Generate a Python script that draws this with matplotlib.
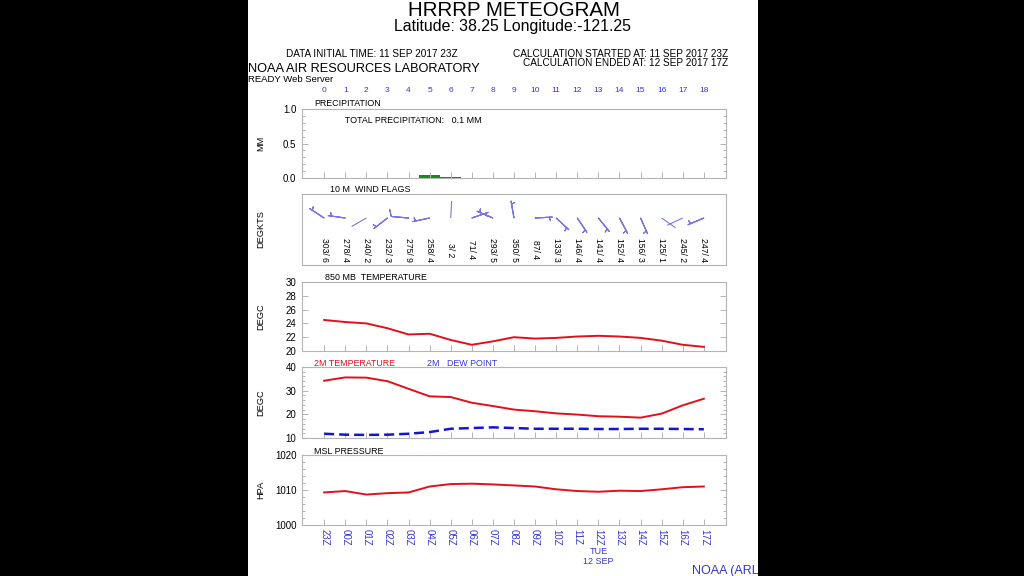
import numpy as np
import matplotlib
matplotlib.use("Agg")
import matplotlib.pyplot as plt
from matplotlib.patches import Rectangle
from matplotlib.ticker import MultipleLocator

plt.rcParams['font.family'] = ['Liberation Sans', 'DejaVu Sans']

# forecast hours and valid times
steps = list(range(19))
hours = ["23Z", "00Z", "01Z", "02Z", "03Z", "04Z", "05Z", "06Z", "07Z", "08Z",
         "09Z", "10Z", "11Z", "12Z", "13Z", "14Z", "15Z", "16Z", "17Z"]

precip = [0, 0, 0, 0, 0, 0.05, 0.01, 0.003, 0, 0, 0, 0, 0, 0, 0, 0, 0, 0, 0]
wind_dir = [303, 278, 240, 232, 275, 258, 3, 71, 293, 350, 87, 133, 146, 141, 152, 156, 125, 245, 247]
wind_kts = [6, 4, 2, 3, 9, 4, 2, 4, 5, 5, 4, 3, 4, 4, 4, 3, 1, 2, 4]
t850 = [24.5, 24.2, 24.0, 23.3, 22.4, 22.5, 21.6, 20.9, 21.4, 22.0,
        21.8, 21.9, 22.1, 22.2, 22.1, 21.9, 21.5, 20.9, 20.6]
t2m = [34.2, 35.6, 35.5, 34.0, 30.8, 27.6, 27.3, 24.9, 23.5, 22.0,
       21.3, 20.4, 19.9, 19.2, 19.0, 18.6, 20.3, 23.8, 26.6]
dewpt = [11.8, 11.4, 11.3, 11.4, 11.8, 12.5, 13.9, 14.2, 14.5, 14.2,
         13.9, 13.9, 13.9, 13.8, 13.8, 13.9, 13.9, 13.8, 13.7]
mslp = [1009.3, 1009.7, 1008.7, 1009.1, 1009.3, 1011.0, 1011.7, 1011.8, 1011.6, 1011.3,
        1011.0, 1010.2, 1009.7, 1009.5, 1009.8, 1009.7, 1010.2, 1010.8, 1011.0]

grey = "#b4b4b4"
blue = "#3535d5"
red = "#e3101c"
W, H = 1024, 576
lab_fs = 6.4


def fx(p):
    return p / W


def fy(p):
    return 1 - p / H


fig = plt.figure(figsize=(10.24, 5.76), dpi=100, facecolor="black")
fig.patches.append(Rectangle((fx(248), 0), fx(510), 1, transform=fig.transFigure,
                             facecolor="white", edgecolor="none", zorder=-1))

left, width = fx(302), fx(424)


def make_ax(top, bottom, xticks=True):
    ax = fig.add_axes([left, fy(bottom), width, (bottom - top) / H])
    for s in ax.spines.values():
        s.set_color(grey)
        s.set_linewidth(0.8)
    ax.set_xlim(-1.05, 19.05)
    ax.set_xticks(steps)
    ax.set_xticklabels([])
    ax.tick_params(which='both', direction='in', color=grey, left=True, right=True,
                   bottom=xticks, top=False, labelsize=7, pad=4, width=0.7)
    ax.tick_params(which='major', length=4)
    ax.tick_params(which='minor', length=2)
    return ax


def ylab(ax, text):
    ax.text((261 - 302) / 424, 0.5, text, transform=ax.transAxes, rotation=90,
            ha='center', va='center', fontsize=6.7)


# header
fig.text(fx(514), fy(16), "HRRRP METEOGRAM", ha='center', va='baseline', fontsize=14.8)
fig.text(fx(512), fy(30.5), "Latitude: 38.25 Longitude:-121.25", ha='center', va='baseline', fontsize=11.4)
fig.text(fx(372), fy(56.7), "DATA INITIAL TIME: 11 SEP 2017 23Z", ha='center', va='baseline', fontsize=7.2)
fig.text(fx(728), fy(56.7), "CALCULATION STARTED AT: 11 SEP 2017 23Z", ha='right', va='baseline', fontsize=7.2)
fig.text(fx(728), fy(66.5), "CALCULATION ENDED AT: 12 SEP 2017 17Z", ha='right', va='baseline', fontsize=7.2)
fig.text(fx(248), fy(72.3), "NOAA AIR RESOURCES LABORATORY", ha='left', va='baseline', fontsize=9.2)
fig.text(fx(248), fy(81.5), "READY Web Server", ha='left', va='baseline', fontsize=6.8)

# precipitation
ax1 = make_ax(109, 178)
ax1.bar(steps, precip, width=1.0, color="#178a17", edgecolor="none")
ax1.set_ylim(0, 1.0)
ax1.set_yticks([0, 0.5, 1.0])
ax1.set_yticklabels(["0.0", "0.5", "1.0"])
ax1.yaxis.set_minor_locator(MultipleLocator(0.1))
ylab(ax1, "MM")
for i in steps:
    ax1.text(i, (178 - 92.3) / 69, str(i), transform=ax1.get_xaxis_transform(),
             ha='center', va='baseline', fontsize=6, color=blue)
fig.text(fx(314), fy(103.5), "PRECIPITATION", ha='left', va='center', fontsize=lab_fs)
ax1.text((345 - 302) / 424, (178 - 120.5) / 69, "TOTAL PRECIPITATION:   0.1 MM",
         transform=ax1.transAxes, ha='left', va='center', fontsize=lab_fs)

# wind flags
ax2 = make_ax(194, 265, xticks=False)
ax2.set_ylim(0, 1)
ax2.set_yticks([])
ylab(ax2, "DEGKTS")
rad = np.deg2rad(wind_dir)
spd = np.array(wind_kts, dtype=float)
ystn = np.full(len(steps), (265 - 218) / 71)
wcol = "#7676de"
ax2.quiver(steps, ystn, np.sin(rad), np.cos(rad), pivot='tail', units='dots',
           scale_units='dots', scale=1 / 17, width=1.1, headwidth=0, headlength=0,
           headaxislength=0, color=wcol)
ax2.barbs(steps, ystn, -spd * np.sin(rad), -spd * np.cos(rad), length=5.0,
          sizes=dict(emptybarb=0), color=wcol, linewidth=0.8)
for i, d, s in zip(steps, wind_dir, wind_kts):
    ax2.text(i, 0.215, f"{d}/ {s}", rotation=-90, ha='center', va='center', fontsize=6.2)
fig.text(fx(330), fy(190), "10 M  WIND FLAGS", ha='left', va='center', fontsize=lab_fs)

# 850 mb temperature
ax3 = make_ax(282, 351)
ax3.plot(steps, t850, color=red, lw=1.4)
ax3.set_ylim(20, 30)
ax3.set_yticks(range(20, 31, 2))
ylab(ax3, "DEGC")
fig.text(fx(325), fy(277), "850 MB  TEMPERATURE", ha='left', va='center', fontsize=lab_fs)

# 2 m temperature and dew point
ax4 = make_ax(367, 438)
ax4.plot(steps, t2m, color=red, lw=1.4)
ax4.plot(steps, dewpt, color="#1515cf", lw=1.8, dashes=(4, 2))
ax4.set_ylim(10, 40)
ax4.set_yticks([10, 20, 30, 40])
ax4.yaxis.set_minor_locator(MultipleLocator(2))
ylab(ax4, "DEGC")
fig.text(fx(314), fy(363.5), "2M TEMPERATURE", ha='left', va='center', fontsize=lab_fs, color=red)
fig.text(fx(427), fy(363.5), "2M   DEW POINT", ha='left', va='center', fontsize=lab_fs, color=blue)

# msl pressure
ax5 = make_ax(455, 525)
ax5.plot(steps, mslp, color=red, lw=1.4)
ax5.set_ylim(1000, 1020)
ax5.set_yticks([1000, 1010, 1020])
ax5.yaxis.set_minor_locator(MultipleLocator(2))
ylab(ax5, "HPA")
ax5.set_xticklabels(hours, rotation=-90, color=blue, fontsize=7)
ax5.tick_params(axis='x', pad=3)
xt = ax5.get_xaxis_transform()
ax5.text(13, (525 - 551) / 70, "TUE", transform=xt, ha='center', va='center', fontsize=6.5, color=blue)
ax5.text(13, (525 - 562) / 70, "12 SEP", transform=xt, ha='center', va='center', fontsize=6.5, color=blue)
fig.text(fx(314), fy(451), "MSL PRESSURE", ha='left', va='center', fontsize=lab_fs)

fig.text(fx(692), fy(571), "NOAA (ARL)", ha='left', va='center', fontsize=9, color=blue)
fig.patches.append(Rectangle((fx(758), 0), 1 - fx(758), 1, transform=fig.transFigure,
                             facecolor="black", edgecolor="none", zorder=10))

fig.savefig("out.png", dpi=100)
